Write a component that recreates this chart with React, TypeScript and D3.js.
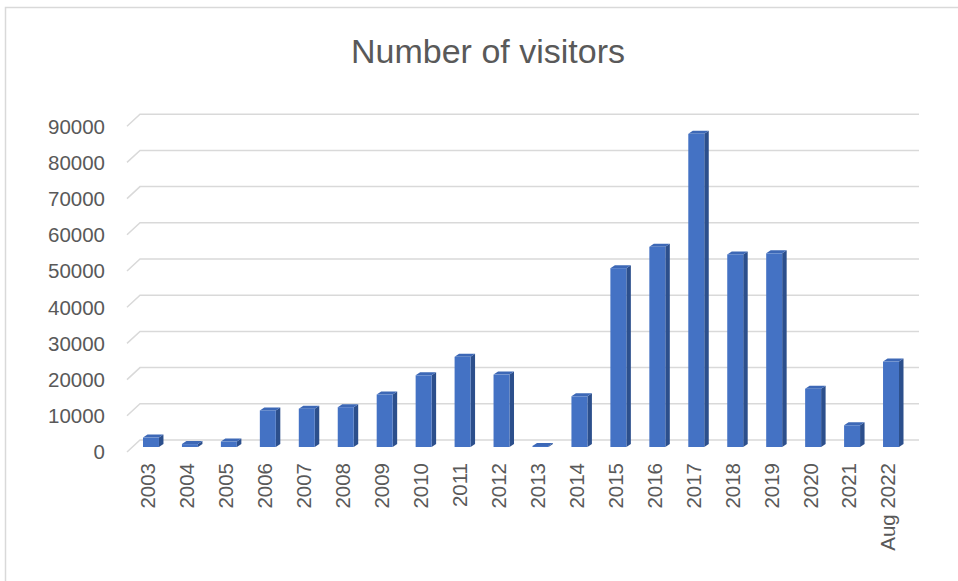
import React from "react";
import * as d3 from "d3";

const categories = ["2003","2004","2005","2006","2007","2008","2009","2010","2011","2012","2013","2014","2015","2016","2017","2018","2019","2020","2021","Aug 2022"];
const visitors = [2600, 800, 1500, 10100, 10600, 11000, 14500, 19800, 24900, 20000, 300, 14000, 49400, 55300, 86500, 53200, 53500, 16100, 6000, 23600];
const yTicks = [0, 10000, 20000, 30000, 40000, 50000, 60000, 70000, 80000, 90000];
const title = "Number of visitors";

const W = 958, H = 581;
const FONT = "'Liberation Sans', Arial, sans-serif";
const TEXT = "#595959";
const GRID = "#D9D9D9";

export default function App() {
  const x = d3.scaleBand<string>().domain(categories).range([131.5, 131.5 + 20 * 38.95]).paddingInner(0.59).paddingOuter(0.295);
  const y = d3.scaleLinear().domain([0, 90000]).range([447, 447 - 9 * 36.2]);
  const backDy = -7, backX0 = 140, backX1 = 919;
  const frontDy = 5, frontX = 127;
  const dx = 4.5, dz = 3;
  const bw = x.bandwidth();

  return (
    <svg width={W} height={H} style={{ display: "block", position: "absolute", left: 0, top: 0 }}>
      <rect x={0} y={0} width={W} height={H} fill="#fff" />
      <path d={`M5.5,${H} L5.5,7.5 L${W},7.5`} fill="none" stroke={GRID} strokeWidth={1.5} />
      <text x={488} y={63} textAnchor="middle" fontFamily={FONT} fontSize={34} fill={TEXT}>{title}</text>
      {yTicks.map((t) => {
        const yb = y(t) + backDy;
        const yf = y(t) + frontDy;
        return (
          <g key={t}>
            <path d={`M${frontX},${yf} L${backX0},${yb} L${backX1},${yb}`} fill="none" stroke={GRID} strokeWidth={1.5} />
            <text x={105} y={yf} dy="0.36em" textAnchor="end" fontFamily={FONT} fontSize={20.5} fill={TEXT}>{t}</text>
          </g>
        );
      })}
      {categories.map((c, i) => {
        const x0 = x(c)!;
        const yt = y(visitors[i]);
        const yb = y(0);
        const x1 = x0 + bw;
        return (
          <g key={c}>
            <path d={`M${x1},${yt} L${x1 + dx},${yt - dz} L${x1 + dx},${yb - dz} L${x1},${yb} Z`} fill="#2C4F8C" />
            <path d={`M${x0},${yt} L${x1},${yt} L${x1 + dx},${yt - dz} L${x0 + dx},${yt - dz} Z`} fill="#3D68B6" />
            <rect x={x0} y={yt} width={bw} height={yb - yt} fill="#4472C4" />
          </g>
        );
      })}
      {categories.map((c) => {
        const cx = x(c)! + bw / 2 - 3;
        return (
          <text key={c} transform={`translate(${cx},463) rotate(-90)`} dy="0.36em" textAnchor="end" fontFamily={FONT} fontSize={20.5} fill={TEXT}>{c}</text>
        );
      })}
    </svg>
  );
}
